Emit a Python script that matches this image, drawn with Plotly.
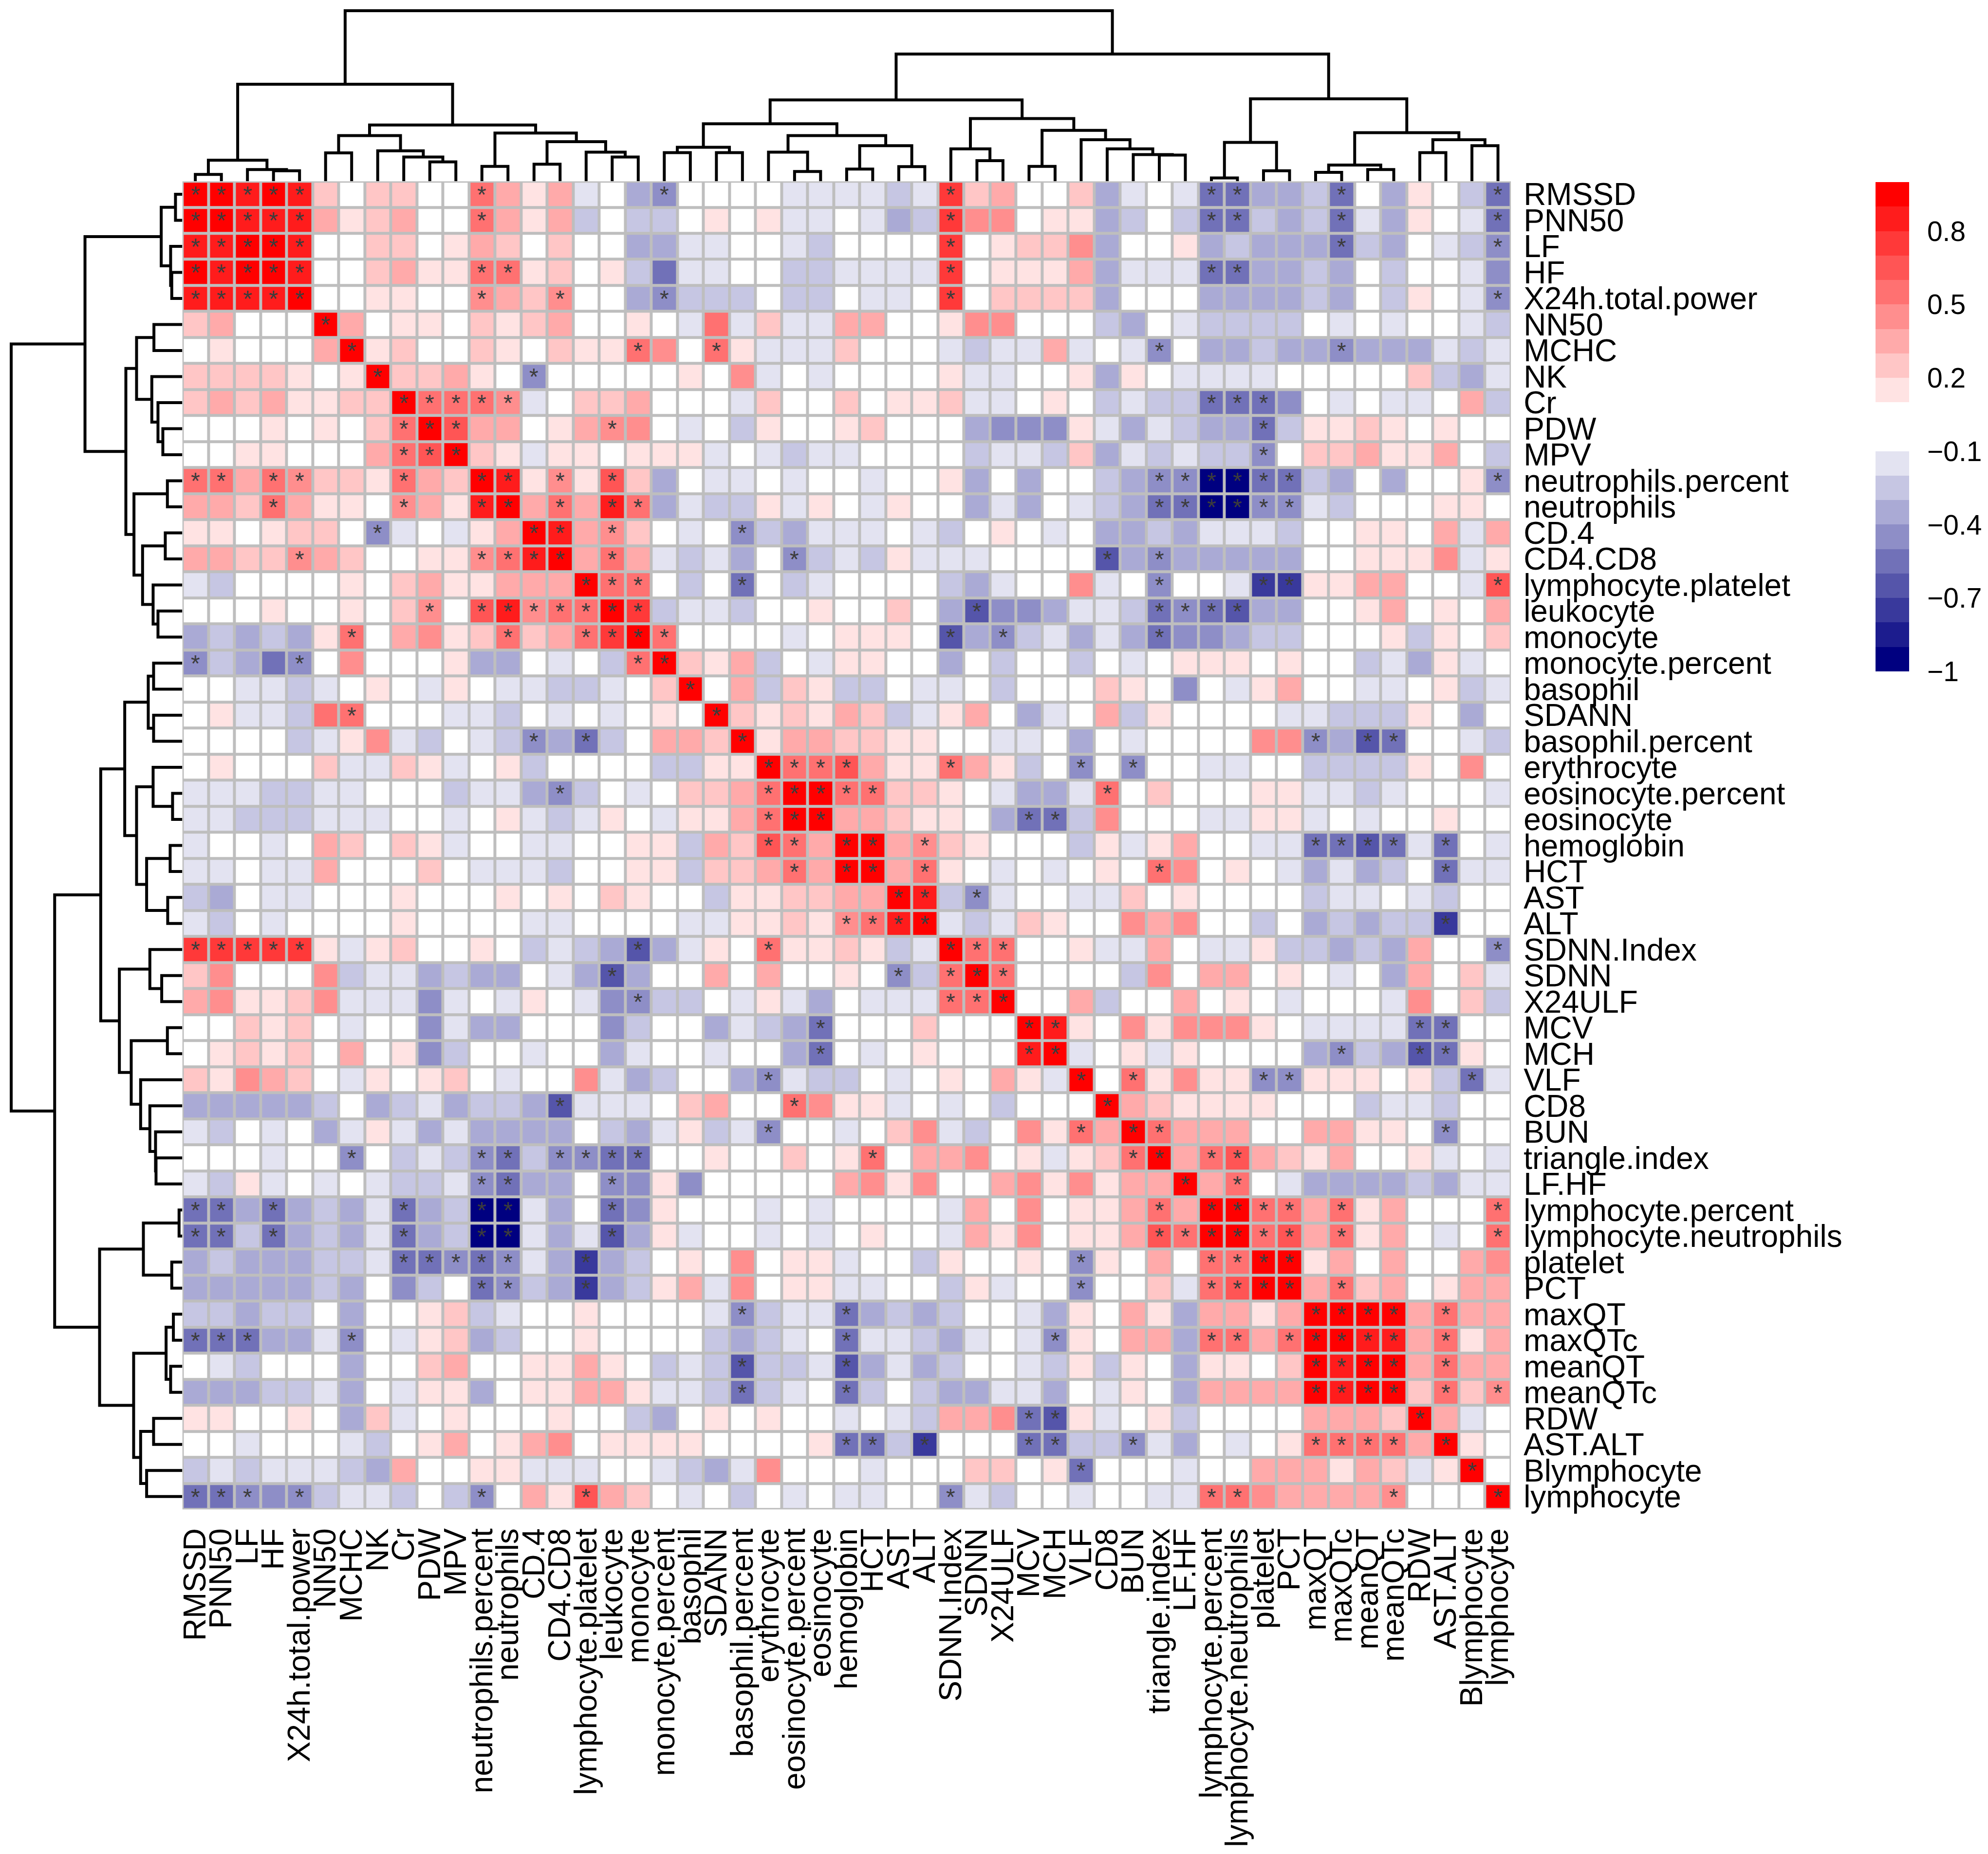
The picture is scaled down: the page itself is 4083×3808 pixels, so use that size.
import plotly.graph_objects as go

W, H = 4083, 3808
FONT = "Liberation Sans, Arial, sans-serif"

# variable order after clustering (rows and columns share the same order)
labels = ["RMSSD", "PNN50", "LF", "HF", "X24h.total.power", "NN50", "MCHC", "NK", "Cr", "PDW",
          "MPV", "neutrophils.percent", "neutrophils", "CD.4", "CD4.CD8", "lymphocyte.platelet",
          "leukocyte", "monocyte", "monocyte.percent", "basophil", "SDANN", "basophil.percent",
          "erythrocyte", "eosinocyte.percent", "eosinocyte", "hemoglobin", "HCT", "AST", "ALT",
          "SDNN.Index", "SDNN", "X24ULF", "MCV", "MCH", "VLF", "CD8", "BUN", "triangle.index",
          "LF.HF", "lymphocyte.percent", "lymphocyte.neutrophils", "platelet", "PCT", "maxQT",
          "maxQTc", "meanQT", "meanQTc", "RDW", "AST.ALT", "Blymphocyte", "lymphocyte"]

# lower triangle of the correlation matrix, row i holds columns 1..i
corr_lower = [
    [.95],
    [.95, .95],
    [.85, .85, .95],
    [.95, .85, .95, .95],
    [.85, .85, .85, .85, .95],
    [.25, .35, 0, 0, 0, .95],
    [0, .15, 0, 0, 0, .35, .95],
    [.25, .25, .25, .25, .15, 0, .15, .95],
    [.25, .35, .25, .35, .15, .15, .25, .25, .95],
    [0, 0, 0, .15, 0, .15, 0, .25, .55, .95],
    [0, 0, .15, .15, 0, 0, 0, .35, .55, .65, .95],
    [.55, .55, .35, .55, .45, .25, .25, .15, .55, .35, .25, .95],
    [.35, .35, .25, .55, .35, .15, .15, 0, .45, .35, .15, .85, .95],
    [.15, .15, 0, .15, .25, .25, 0, -.45, -.15, 0, -.15, .15, .35, .95],
    [.35, .35, .25, .25, .45, .35, .25, 0, 0, .15, .15, .45, .55, .85, .95],
    [-.15, -.25, 0, 0, 0, 0, .15, 0, .25, .35, .15, .15, .35, .35, .35, .95],
    [0, 0, 0, .15, 0, 0, .15, 0, .25, .45, 0, .65, .85, .45, .55, .55, .95],
    [-.35, -.25, -.35, -.25, -.35, .15, .55, 0, .35, .45, .15, .25, .55, .25, .35, .55, .75, .95],
    [-.45, -.25, -.35, -.55, -.45, 0, .45, 0, 0, 0, .15, -.35, -.35, 0, -.15, 0, -.25, .55, .95],
    [0, 0, -.15, -.15, -.25, -.15, 0, .15, 0, -.15, .15, 0, -.15, -.15, -.25, -.25, -.15, 0, .25,
     .95],
    [0, .15, -.15, -.15, -.25, .55, .55, 0, 0, 0, -.15, -.15, -.25, 0, -.15, 0, -.15, 0, .15, 0,
     .95],
    [0, 0, 0, 0, -.25, -.15, .15, .45, -.15, -.25, 0, -.15, -.25, -.45, -.35, -.55, -.25, 0, .35,
     .35, .25, .95],
    [0, .15, 0, 0, 0, .25, -.15, -.15, .25, .15, -.15, 0, .15, -.25, 0, 0, 0, 0, -.25, -.25, .15,
     .15, .95],
    [-.15, -.15, -.15, -.25, -.25, -.15, -.15, 0, 0, 0, -.25, -.15, -.15, -.35, -.45, -.25, 0,
     -.15, 0, .25, .25, .35, .55, .95],
    [-.15, -.15, -.25, -.25, -.25, -.15, -.15, -.15, 0, 0, -.15, 0, .15, -.15, -.25, -.15, .15,
     0, -.15, .15, .15, .35, .55, .95, .95],
    [-.15, 0, 0, -.15, 0, .35, .25, 0, .25, .15, -.15, 0, 0, -.15, -.15, 0, 0, .15, .15, -.25,
     .35, .25, .65, .55, .35, .95],
    [-.15, -.15, 0, -.15, -.15, .35, 0, 0, 0, .25, 0, -.15, -.15, -.15, -.25, 0, 0, .15, .15,
     -.25, .25, .25, .35, .55, .35, .95, .95],
    [-.25, -.35, 0, -.15, -.15, 0, 0, 0, .15, 0, 0, 0, .15, 0, .15, 0, .25, .15, 0, 0, -.25, .15,
     .15, .25, .25, .35, .35, .95],
    [-.15, -.25, 0, -.15, 0, 0, 0, 0, .15, 0, 0, 0, 0, -.15, -.15, 0, 0, 0, 0, -.15, -.15, .15,
     .15, .25, .15, .45, .55, .85, .95],
    [.75, .75, .75, .75, .75, .15, -.15, .15, .25, 0, 0, .15, 0, -.25, -.15, -.25, -.35, -.65,
     -.35, -.15, .15, 0, .55, .15, .15, .25, .15, -.25, -.15, .95],
    [.25, .45, 0, 0, 0, .45, -.25, -.15, -.15, -.35, -.25, -.35, -.35, 0, -.15, -.35, -.65, -.35,
     0, 0, .35, 0, .35, 0, 0, .15, 0, -.45, -.25, .55, .95],
    [.35, .45, .15, .15, .25, .45, -.15, -.15, -.15, -.45, -.15, 0, -.15, .15, 0, -.15, -.45,
     -.45, -.25, -.25, 0, -.15, .15, -.15, -.35, 0, -.15, -.15, -.15, .55, .55, .95],
    [0, 0, .25, .15, .25, 0, -.15, 0, 0, -.45, -.15, -.35, -.35, 0, 0, 0, -.45, -.25, 0, 0, -.35,
     -.15, -.25, -.35, -.55, 0, 0, 0, .25, 0, 0, 0, .95],
    [0, .15, .25, .15, .25, 0, .35, 0, .15, -.45, -.25, 0, 0, -.15, 0, 0, -.35, -.15, 0, 0, -.15,
     0, 0, -.35, -.55, 0, -.15, 0, .15, 0, 0, 0, .85, .95],
    [.25, .15, .45, .35, .25, 0, -.15, .15, 0, .15, .25, 0, -.15, 0, 0, .45, -.15,
     -.35, -.25, 0, 0, -.35, -.45, -.15, -.25, -.25, 0, -.15, 0, .15, 0, .35, .15, -.15,
     .95],
    [-.35, -.35, -.35, -.35, -.35, -.25, 0, -.35, -.25, -.15, -.35, -.25, -.25, -.35, -.65, -.15,
     -.15,
     -.15, 0, .25, .35, 0, 0, .55, .45, .15, .15, -.15, 0, -.15, 0, -.25, 0, 0,
     0, .95],
    [-.15, -.25, 0, -.15, 0, -.35, -.15, .15, -.15, -.35, -.15, -.35, -.35, -.35, -.35, 0, -.25,
     -.35, -.15, .15, -.25, -.15, -.45, 0, 0, -.15, 0, .25, .45, -.15, -.25, 0, .45, .15,
     .55, .35, .95],
    [0, 0, 0, -.15, 0, 0, -.45, 0, -.25, -.15, -.25, -.45, -.55, -.25, -.45, -.45, -.55,
     -.55, 0, 0, .15, 0, 0, .25, 0, .15, .55, 0, .35, .35, .45, 0, .15, -.15,
     .15, .25, .55, .95],
    [-.15, -.25, .15, -.15, 0, -.15, 0, -.15, -.25, -.25, -.15, -.45, -.55, -.35, -.35, 0, -.45,
     -.45, .15, -.45, 0, 0, 0, 0, 0, .35, .45, .15, .45, 0, 0, .35, .45, .15,
     .45, .15, .35, .35, .95],
    [-.55, -.55, -.35, -.55, -.35, -.25, -.35, -.15, -.55, -.35, -.25, -.97, -.93, -.15, -.35, 0,
     -.55,
     -.45, .15, 0, 0, 0, -.15, 0, -.15, 0, 0, 0, 0, -.15, .35, 0, .45, 0,
     .15, .15, .35, .55, .35, .95],
    [-.55, -.55, -.25, -.55, -.35, -.25, -.35, -.15, -.55, -.35, -.25, -.97, -.93, -.15, -.35,
     -.15, -.65,
     -.35, .15, -.15, 0, 0, -.15, 0, -.15, 0, .15, 0, 0, -.15, .35, .15, .45, 0,
     .15, .15, .35, .65, .55, .95, .95],
    [-.35, -.25, -.35, -.35, -.35, -.25, -.25, -.15, -.55, -.55, -.45, -.55, -.45, -.15, -.35,
     -.75, -.35,
     -.25, 0, .15, 0, .45, 0, .15, .15, -.15, 0, 0, -.25, .15, 0, 0, .15, 0,
     -.45, .15, 0, .35, 0, .55, .55, .95],
    [-.35, -.35, -.35, -.35, -.35, -.25, -.35, 0, -.45, -.25, 0, -.55, -.45, -.25, -.35, -.75,
     -.35,
     -.25, .15, .35, -.15, .45, 0, .15, .15, -.15, -.15, 0, 0, -.25, .15, -.15, 0, 0,
     -.45, 0, 0, .25, -.15, .55, .65, .95, .95],
    [-.25, -.25, -.35, -.25, -.25, 0, -.35, 0, 0, .15, .25, -.25, -.15, 0, 0, .15, 0,
     0, 0, 0, -.15, -.45, -.25, -.15, -.15, -.55, -.35, -.25, -.35, -.25, 0, 0, -.15, -.35,
     .15, 0, .35, .15, -.35, .35, .35, .15, .35, .95],
    [-.55, -.55, -.55, -.35, -.35, -.15, -.45, 0, -.15, .15, .25, -.35, -.25, 0, 0, .15, 0,
     0, 0, 0, -.25, -.35, -.25, -.15, 0, -.55, -.15, -.15, -.25, -.35, -.15, 0, -.15, -.45,
     .15, 0, .35, .35, -.35, .55, .55, .35, .55, .95, .95],
    [0, -.15, -.25, 0, 0, 0, -.35, 0, 0, .25, .35, 0, 0, .15, .15, .35, .15,
     0, -.25, -.15, -.25, -.65, -.25, -.25, -.15, -.65, -.35, -.15, -.35, -.25, 0, 0, -.15, -.25,
     .15, -.25, .15, 0, -.35, .15, .15, 0, .25, .95, .85, .95],
    [-.35, -.35, -.35, -.25, -.25, -.15, -.35, 0, -.15, .15, .15, -.35, 0, .15, .15, .35, .35,
     .15, -.15, -.15, -.25, -.55, -.25, -.15, 0, -.55, -.25, 0, -.25, -.35, -.35, -.15, -.15,
     -.35,
     0, -.15, .15, 0, -.35, .35, .35, .35, .35, .95, .85, .95, .95],
    [.15, .15, 0, 0, .15, 0, -.35, .25, -.15, 0, .15, 0, 0, 0, .15, 0, 0,
     -.25, -.35, 0, .15, 0, .15, 0, 0, -.15, 0, -.15, -.25, .35, .35, .45, -.55, -.65,
     .15, -.15, 0, .15, -.25, 0, 0, 0, 0, .35, .35, .35, .25, .95],
    [0, 0, -.15, 0, 0, 0, -.15, -.25, 0, .15, .35, 0, .15, .35, .45, 0, .15,
     .15, .15, .15, 0, 0, 0, 0, .15, -.55, -.55, -.25, -.75, 0, 0, 0, -.55, -.55,
     -.25, -.25, -.45, -.15, -.35, 0, -.15, 0, .15, .55, .55, .55, .55, .35, .95],
    [-.25, -.15, -.25, -.15, -.15, -.15, -.25, -.35, .35, 0, 0, .15, .15, -.15, -.15, -.15, 0,
     0, -.15, -.25, -.35, -.15, .45, 0, 0, 0, -.15, 0, 0, 0, .25, .25, 0, .15,
     -.55, 0, 0, 0, -.15, 0, 0, .35, .35, .35, .15, .35, .25, -.15, .15, .95],
    [-.55, -.55, -.45, -.45, -.45, -.25, -.15, -.15, -.25, 0, -.25, -.45, 0, .35, .15, .65, .35,
     .25, 0, -.15, 0, -.25, 0, -.15, 0, -.15, -.15, 0, 0, -.45, -.15, -.25, 0, 0,
     -.15, 0, 0, -.15, -.15, .55, .55, .45, .35, .35, .35, .35, .45, 0, 0, 0, .95],
]

# columns (1-based, lower triangle) marked with a significance star in each row
sig_lower = [
    [1], [1, 2], [1, 2, 3], [1, 2, 3, 4], [1, 2, 3, 4, 5], [6], [7], [8], [9], [9, 10],
    [9, 10, 11], [1, 2, 4, 5, 9, 12], [4, 9, 12, 13], [8, 14], [5, 12, 13, 14, 15], [16],
    [10, 12, 13, 14, 15, 16, 17], [7, 13, 16, 17, 18], [1, 5, 18, 19], [20], [7, 21],
    [14, 16, 22], [23], [15, 23, 24], [23, 24, 25], [23, 24, 26], [24, 26, 27], [28],
    [26, 27, 28, 29], [1, 2, 3, 4, 5, 18, 23, 30], [17, 28, 30, 31], [18, 30, 31, 32],
    [25, 33], [25, 33, 34], [23, 35], [15, 24, 36], [23, 35, 37],
    [7, 12, 13, 15, 16, 17, 18, 27, 37, 38], [12, 13, 17, 39],
    [1, 2, 4, 9, 12, 13, 17, 38, 40], [1, 2, 4, 9, 12, 13, 17, 38, 39, 40, 41],
    [9, 10, 11, 12, 13, 16, 35, 40, 41, 42], [12, 13, 16, 35, 40, 41, 42, 43],
    [22, 26, 44], [1, 2, 3, 7, 26, 34, 40, 41, 43, 44, 45], [22, 26, 44, 45, 46],
    [22, 26, 44, 45, 46, 47], [33, 34, 48], [26, 27, 29, 33, 34, 37, 44, 45, 46, 47, 49],
    [35, 50], [1, 2, 3, 5, 12, 16, 30, 40, 41, 47, 51],
]

# hierarchical clustering tree: (merge height, left, right); ints are leaf positions
tree = (1055,
        (600,
         (130, (42, 0, 1), (72, 2, (65, 3, 4))),
         (348,
          (282, (175, 5, 6), (188, 7, (150, 8, (120, 9, 10)))),
          (298, (92, 11, 12), (245, (105, 13, 14), (180, 15, (150, 16, 17)))))),
        (787,
         (503,
          (355,
           (210, (177, 18, 19), (177, 20, 21)),
           (282, (180, 22, (60, 23, 24)), (220, (75, 25, 26), (90, 27, 28)))),
          (388,
           (200, 29, (127, 30, 31)),
           (315, (92, 32, 33), (257, 34, (200, 35, (165, 36, (162, 37, 38))))))),
         (510,
          (240, (20, 39, 40), (65, 41, 42)),
          (300, (100, (55, 43, 44), (72, 45, 46)),
           (257, (177, 47, 48), (220, 49, 50))))))

legend_ticks = [0.8, 0.5, 0.2, -0.1, -0.4, -0.7, -1]
legend_text = ["0.8", "0.5", "0.2", "\u22120.1", "\u22120.4", "\u22120.7", "\u22121"]

blues = ["#000080", "#1C1C8E", "#39399C", "#5555AA", "#7171B8",
         "#8E8EC7", "#AAAAD5", "#C6C6E3", "#E3E3F1"]
reds = ["#FFE3E3", "#FFC6C6", "#FFAAAA", "#FF8E8E", "#FF7171",
        "#FF5555", "#FF3939", "#FF1C1C", "#FF0000"]

n = len(labels)
corr = [[0.0] * n for _ in range(n)]
stars = [[""] * n for _ in range(n)]
for i, row in enumerate(corr_lower):
    assert len(row) == i + 1, labels[i]
    for j, v in enumerate(row):
        corr[i][j] = v
        corr[j][i] = v
for i, cols in enumerate(sig_lower):
    for c in cols:
        stars[i][c - 1] = "*"
        stars[c - 1][i] = "*"

# 20 bins of 0.1 between -1 and 1, the two around zero left white
bin_colors = blues + ["#FFFFFF", "#FFFFFF"] + reds
colorscale = []
for k, col in enumerate(bin_colors):
    colorscale.append([k / 20, col])
    colorscale.append([(k + 1) / 20, col])

# dendrogram segments
dx, dh = [], []


def walk(node):
    if isinstance(node, int):
        return float(node), 0.0
    h, left, right = node
    xl, hl = walk(left)
    xr, hr = walk(right)
    dx.extend([xl, xl, xr, xr, None])
    dh.extend([hl, h, h, hr, None])
    return (xl + xr) / 2, h


walk(tree)

# layout geometry (pixels of the 4083 x 3808 page)
X0, X1 = 358 / W, 3099 / W
Y0, Y1 = 1 - 3099 / H, 1 - 357 / H
TREE_TOP = 1070

fig = go.Figure()

fig.add_trace(go.Heatmap(
    z=corr, x=list(range(n)), y=list(range(n)),
    text=stars, texttemplate="%{text}",
    textfont=dict(size=48, color="#3C3C3C", family=FONT),
    colorscale=colorscale, zmin=-1, zmax=1,
    xgap=6, ygap=6, hoverinfo="skip",
    colorbar=dict(
        x=3851 / W, xanchor="left", y=1 - 359 / H, yanchor="top",
        len=(1369 - 359) / H, lenmode="fraction",
        thickness=69, thicknessmode="pixels",
        xpad=0, ypad=0, outlinewidth=0,
        tickvals=legend_ticks, ticktext=legend_text,
        ticks="outside", ticklen=26, tickcolor="rgba(0,0,0,0)",
        tickfont=dict(size=57, family=FONT, color="black")),
))

line_style = dict(color="black", width=6)
fig.add_trace(go.Scatter(x=dx, y=dh, mode="lines", line=line_style,
                         xaxis="x2", yaxis="y2", hoverinfo="skip"))
fig.add_trace(go.Scatter(x=dh, y=dx, mode="lines", line=line_style,
                         xaxis="x3", yaxis="y3", hoverinfo="skip"))

# grey cell borders
fig.add_shape(type="rect", xref="x", yref="y", x0=-0.5, x1=n - 0.5, y0=-0.5, y1=n - 0.5,
              fillcolor="#BEBEBE", line=dict(width=0), layer="below")

tick_font = dict(size=64, family=FONT, color="black")
fig.update_layout(
    width=W, height=H,
    margin=dict(l=0, r=0, t=0, b=0),
    paper_bgcolor="white", plot_bgcolor="white",
    showlegend=False,
    xaxis=dict(domain=[X0, X1], range=[-0.5, n - 0.5], anchor="y",
               tickvals=list(range(n)), ticktext=labels, tickangle=-90,
               ticks="outside", ticklen=12, tickcolor="rgba(0,0,0,0)",
               tickfont=tick_font, showgrid=False, zeroline=False, showline=False),
    yaxis=dict(domain=[Y0, Y1], range=[n - 0.5, -0.5], anchor="x", side="right",
               tickvals=list(range(n)), ticktext=labels,
               ticks="outside", ticklen=12, tickcolor="rgba(0,0,0,0)",
               tickfont=tick_font, showgrid=False, zeroline=False, showline=False),
    xaxis2=dict(domain=[X0, X1], range=[-0.5, n - 0.5], anchor="y2", visible=False),
    yaxis2=dict(domain=[Y1, 1.0], range=[0, TREE_TOP], anchor="x2", visible=False),
    xaxis3=dict(domain=[0.0, X0], range=[TREE_TOP, 0], anchor="y3", visible=False),
    yaxis3=dict(domain=[Y0, Y1], range=[n - 0.5, -0.5], anchor="x3", visible=False),
)

fig.write_html("out.html")
